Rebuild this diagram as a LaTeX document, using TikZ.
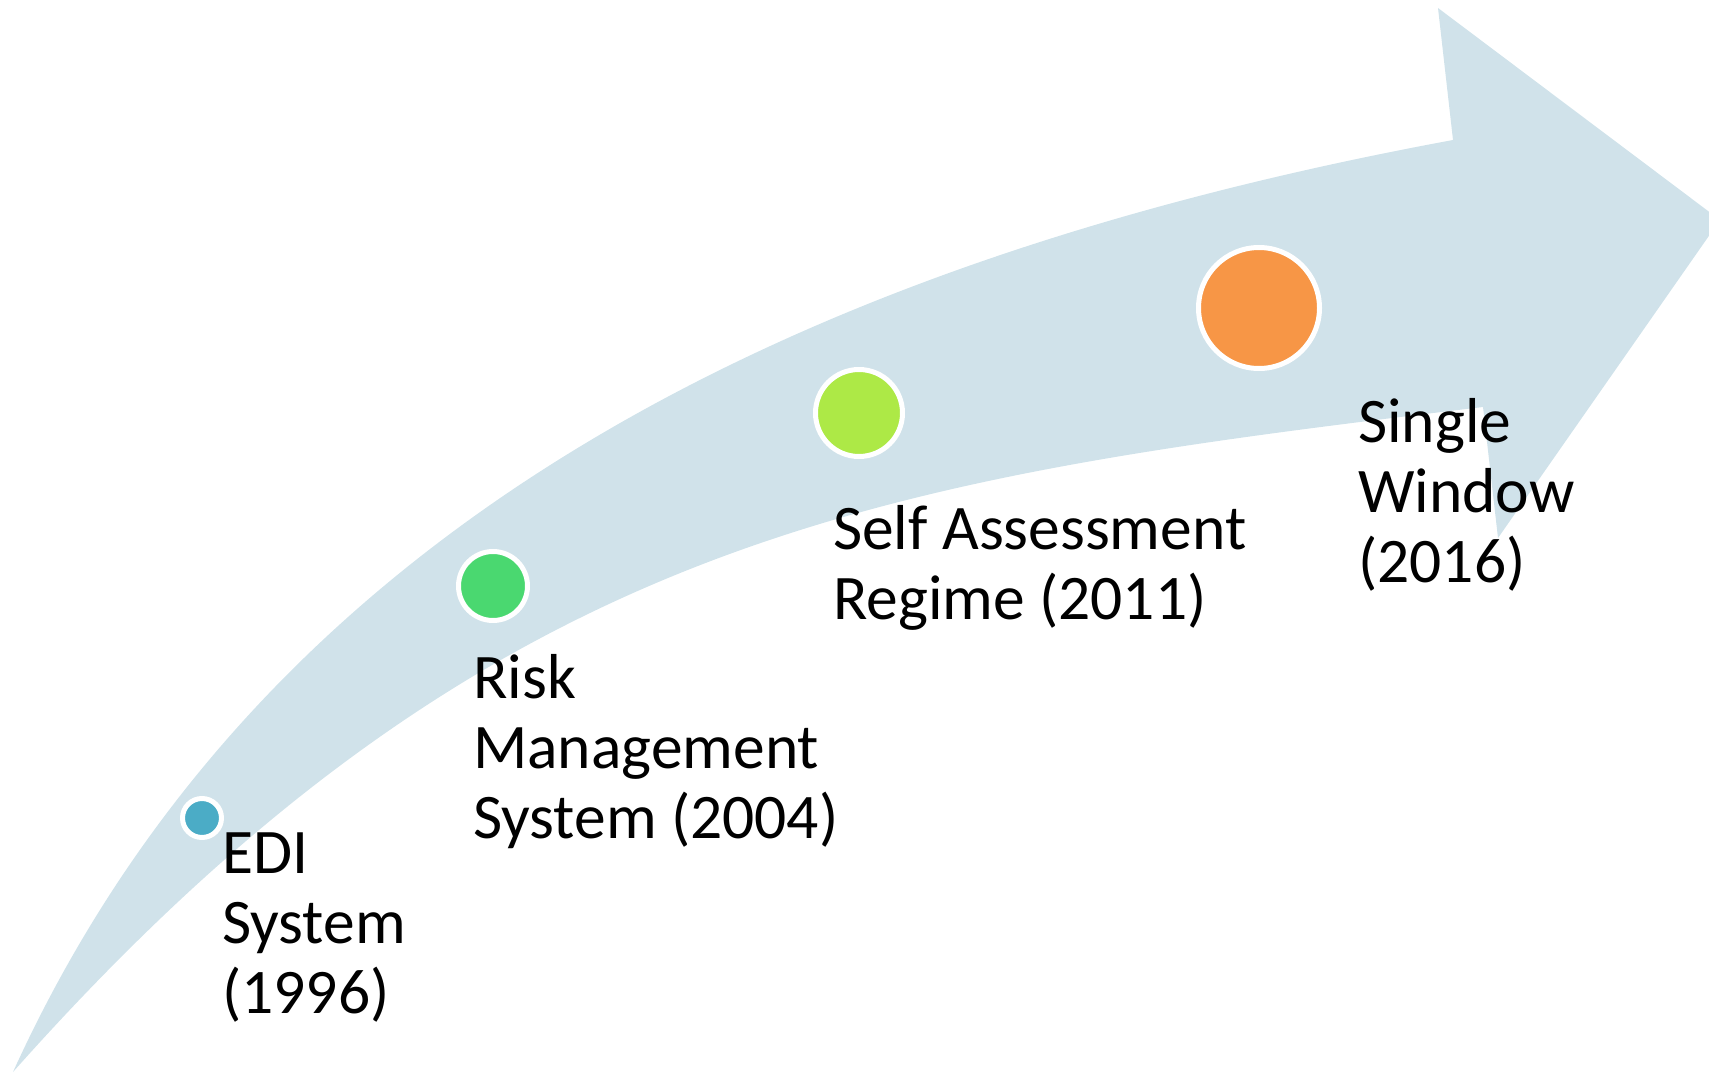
\documentclass[tikz,border=0pt]{standalone}
\usepackage{fontspec}
\setmainfont{Carlito}
\definecolor{bandblue}{HTML}{D0E2EA}
\definecolor{cteal}{HTML}{4BACC6}
\definecolor{cgreen}{HTML}{4AD870}
\definecolor{clime}{HTML}{ADE946}
\definecolor{corange}{HTML}{F79646}
\begin{document}
\begin{tikzpicture}[x=1pt,y=-1pt,
  band/.style={fill=bandblue, draw=none},
  dot/.style={circle, draw=white, line width=5pt, inner sep=0pt},
  lbl/.style={anchor=base west, align=left, inner sep=0pt,
    font=\fontsize{63.5}{70}\selectfont, text=black}]
\useasboundingbox (0,0) rectangle (1709,1073);
\clip (0,0) rectangle (1709,1073);
\fill[band] (13,1072) .. controls (263,522) and (803,260) .. (1453,140)
  -- (1438,8) -- (1720,220) -- (1498,538) -- (1483,407)
  .. controls (883,479) and (493,532) .. (13,1072) -- cycle;
\node[dot, fill=cteal, minimum size=39pt] (edi) at (202,818) {};
\node[dot, fill=cgreen, minimum size=69pt] (risk) at (493,586) {};
\node[dot, fill=clime, minimum size=87pt] (self) at (859,413) {};
\node[dot, fill=corange, minimum size=121pt] (single) at (1259,308) {};
\node[lbl] (editext) at (222,1013) {EDI\\System\\(1996)};
\node[lbl] (risktext) at (473,838) {Risk\\Management\\System (2004)};
\node[lbl] (selftext) at (833,619) {Self Assessment\\Regime (2011)};
\node[lbl] (singletext) at (1358,582) {Single\\Window\\(2016)};
\end{tikzpicture}
\end{document}
